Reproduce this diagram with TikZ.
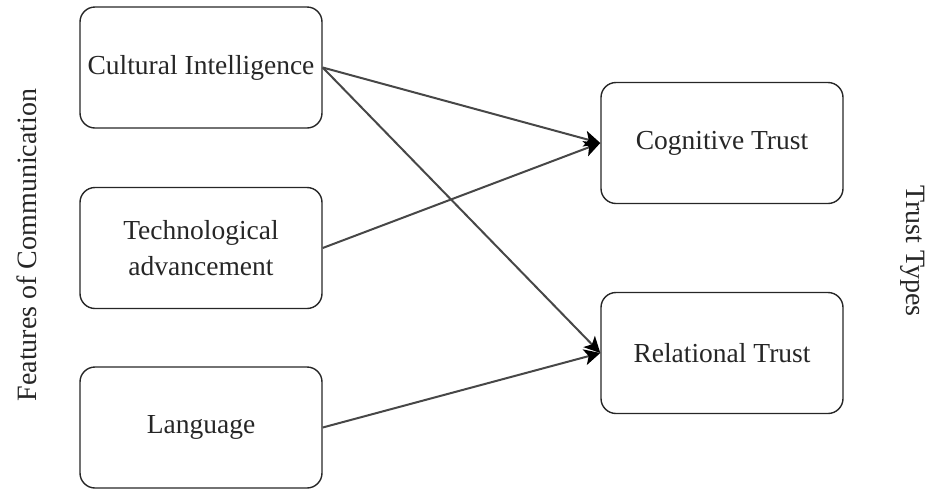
\documentclass[tikz,border=0pt]{standalone}
\usepackage{fontspec}
\setmainfont{Liberation Serif}
\usetikzlibrary{arrows.meta}

\begin{document}
\begin{tikzpicture}[x=1pt,y=-1pt,
  box/.style={draw=black!85,line width=1.4pt,rounded corners=15pt,
    minimum width=242pt,minimum height=121pt,align=center,
    text=black!85,font=\fontsize{27.5}{36}\selectfont},
  side/.style={text=black!85,font=\fontsize{28}{34}\selectfont},
  link/.style={draw=black!72,line width=2pt,
    -{Stealth[length=16pt,width=16pt,inset=4pt,color=black]}}]
  \useasboundingbox (0,0) rectangle (930,488);

  \node[box] (ci) at (201,67.5) {Cultural Intelligence};
  \node[box] (ta) at (201,248) {Technological\\advancement};
  \node[box] (la) at (201,427.5) {Language};
  \node[box] (ct) at (722,143) {Cognitive Trust};
  \node[box] (rt) at (722,353) {Relational Trust};

  \node[side,rotate=90] (fc) at (27,245) {Features of Communication};
  \node[side,rotate=-90] (tt) at (913,251) {Trust Types};

  \draw[link] (ci.east) -- (ct.west);
  \draw[link] (ci.east) -- (rt.west);
  \draw[link] (ta.east) -- (ct.west);
  \draw[link] (la.east) -- (rt.west);
\end{tikzpicture}
\end{document}
